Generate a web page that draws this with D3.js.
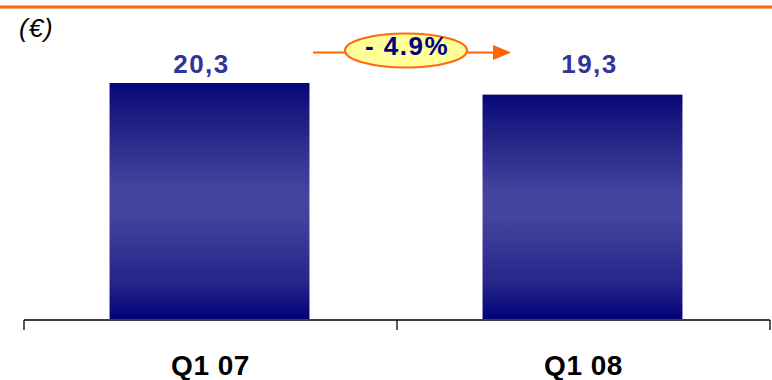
<!DOCTYPE html>
<html><head><meta charset="utf-8">
<script src="https://cdn.jsdelivr.net/npm/d3@7"></script>
<style>body{margin:0;background:#fff}svg{display:block}</style>
</head><body>
<script>
const categories = ["Q1 07", "Q1 08"];
const values = [20.3, 19.3];
const valueLabels = ["20,3", "19,3"];
const changeLabel = "- 4.9%";
const unitLabel = "(€)";

const W = 772, H = 380;
const FONT = "Liberation Sans, Arial, Helvetica, sans-serif";
const svg = d3.select("body").append("svg").attr("width", W).attr("height", H);
const defs = svg.append("defs");
const g = defs.append("linearGradient").attr("id", "barGrad").attr("x1", 0).attr("y1", 0).attr("x2", 0).attr("y2", 1);
[[0, "#06067a"], [0.12, "#1a1a80"], [0.45, "#4545a0"], [0.55, "#44449e"], [0.85, "#24248a"], [1, "#020278"]]
  .forEach(([o, c]) => g.append("stop").attr("offset", o).attr("stop-color", c));

svg.append("rect").attr("x", 0).attr("y", 5.5).attr("width", W).attr("height", 3).attr("fill", "#ff6600");

const x = d3.scaleBand().domain(categories).range([24, 770]).paddingInner(0.464).paddingOuter(0.232);
const y = d3.scaleLinear().domain([0, 20.3]).range([319, 83]);

svg.selectAll("rect.bar").data(values).enter().append("rect").attr("class", "bar")
  .attr("x", (d, i) => x(categories[i]) - 1)
  .attr("y", d => y(d))
  .attr("width", x.bandwidth())
  .attr("height", d => y(0) - y(d))
  .attr("fill", "url(#barGrad)");

const labelDx = [-9, 6];
svg.selectAll("text.val").data(values).enter().append("text").attr("class", "val")
  .attr("x", (d, i) => x(categories[i]) + x.bandwidth() / 2 + labelDx[i])
  .attr("y", 72.5)
  .attr("text-anchor", "middle")
  .attr("font-family", FONT)
  .attr("font-weight", "bold").attr("font-size", 26).attr("letter-spacing", 1.5).attr("fill", "#333399")
  .text((d, i) => valueLabels[i]);

// axis
const base = 320;
const axis = svg.append("g").attr("stroke", "#000").attr("stroke-width", 1.3);
const x0 = x.range()[0], x1 = x.range()[1];
axis.append("line").attr("x1", x0).attr("x2", x1).attr("y1", base).attr("y2", base);
const tickPos = [x0].concat(categories.map((c, i) => x0 + x.step() * (i + 1)));
tickPos.forEach(t => axis.append("line").attr("x1", t).attr("x2", t).attr("y1", base).attr("y2", base + 10));

svg.selectAll("text.cat").data(categories).enter().append("text").attr("class", "cat")
  .attr("x", d => x(d) + x.bandwidth() / 2)
  .attr("y", 375)
  .attr("text-anchor", "middle")
  .attr("font-family", FONT)
  .attr("font-weight", "bold").attr("font-size", 28).attr("letter-spacing", 0.5).attr("fill", "#000")
  .text(d => d);

svg.append("text").attr("x", 19).attr("y", 37)
  .attr("font-family", FONT)
  .attr("font-style", "italic").attr("font-size", 26).attr("letter-spacing", 1).attr("fill", "#000").text(unitLabel);

// change arrow
const ay = 52.5;
svg.append("line").attr("x1", 313).attr("x2", 495).attr("y1", ay).attr("y2", ay)
  .attr("stroke", "#ff6600").attr("stroke-width", 2.2);
svg.append("path").attr("d", `M493,${ay - 7.5} L511,${ay} L493,${ay + 7.5} Z`).attr("fill", "#ff6600");
svg.append("ellipse").attr("cx", 406).attr("cy", 50.5).attr("rx", 61).attr("ry", 17)
  .attr("fill", "#ffff99").attr("stroke", "#ff6a10").attr("stroke-width", 2.2);
svg.append("text").attr("x", 407).attr("y", 55).attr("text-anchor", "middle")
  .attr("font-family", FONT)
  .attr("font-weight", "bold").attr("font-size", 26).attr("letter-spacing", 1.5).attr("fill", "#000080").text(changeLabel);
</script>
</body></html>
